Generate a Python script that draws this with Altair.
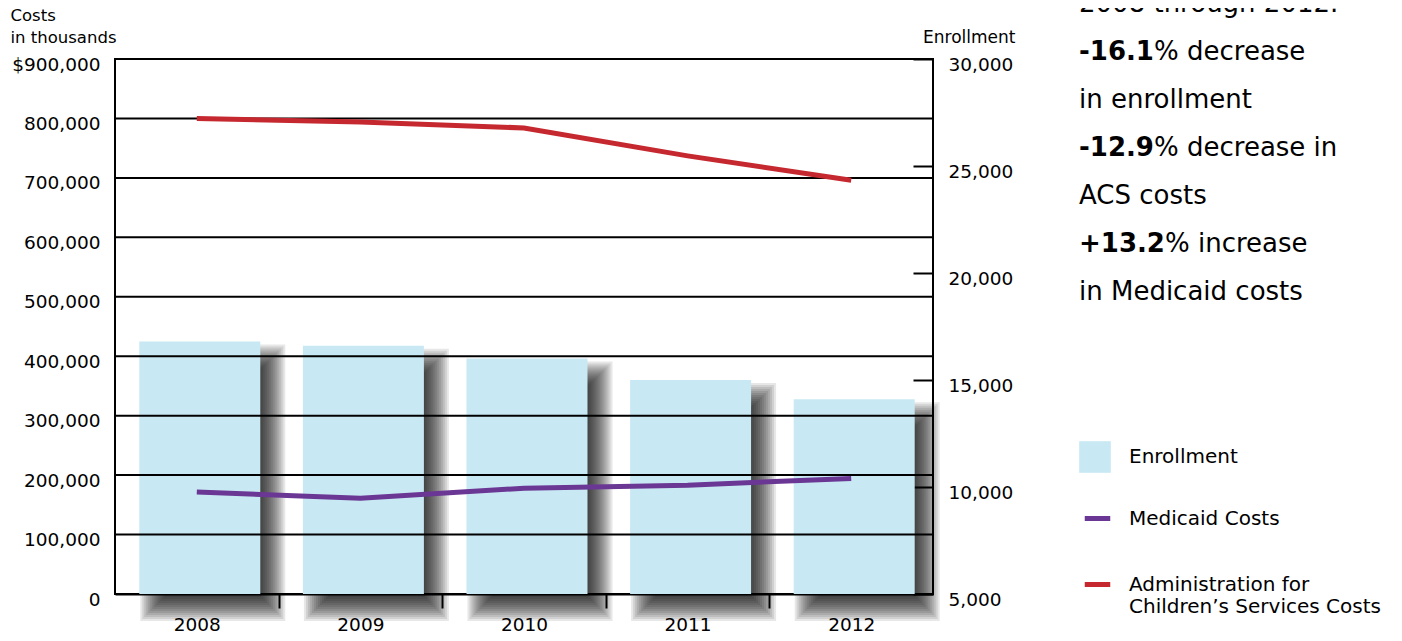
import altair as alt
import pandas as pd

# ---------------- data ----------------
years = ["2008", "2009", "2010", "2011", "2012"]
enrollment = [16800, 16600, 16000, 15000, 14100]
medicaid_costs = [171500, 161000, 178000, 183000, 194500]
acs_costs = [800000, 794000, 784000, 737000, 696000]

series_names = ["Enrollment", "Medicaid Costs", "Administration for Children’s Services Costs"]
series_colors = ["#c8e9f3", "#6b3795", "#c6282f"]

cost_ticks = [0, 100000, 200000, 300000, 400000, 500000, 600000, 700000, 800000, 900000]
enroll_ticks = [5000, 10000, 15000, 20000, 25000, 30000]
grid_values = [100000, 200000, 300000, 400000, 500000, 600000, 700000, 800000]

note_bold = ["", "-16.1", "", "-12.9", "", "+13.2", ""]
note_regular = ["2008 through 2012.", "% decrease", "in enrollment", "% decrease in",
                "ACS costs", "% increase", "in Medicaid costs"]

FONT = "DejaVu Sans"

bars_df = pd.DataFrame({"year": years, "enrollment": enrollment, "series": series_names[0]})
lines_df = pd.DataFrame({
    "year": years * 2,
    "cost": medicaid_costs + acs_costs,
    "series": [series_names[1]] * 5 + [series_names[2]] * 5,
})
grid_df = pd.DataFrame({"cost": grid_values})

# ---------------- scales / axes ----------------
x_scale = alt.Scale(domain=years, paddingInner=0, paddingOuter=0)
x_axis = alt.Axis(title=None, tickBand="extent", tickSize=14, tickWidth=2, tickColor="black",
                  tickOpacity={"condition": {"test": "datum.value == null || datum.value === '2012'",
                                             "value": 0}, "value": 1},
                  domain=True, domainColor="black", domainWidth=2,
                  labelFontSize=18.5, labelPadding=7, labelAngle=0, labelColor="black",
                  labelFont=FONT)
X = alt.X("year:N", scale=x_scale, axis=x_axis)
BAR_PX = 121

enroll_scale = alt.Scale(domain=[5000, 30000], zero=False, nice=False)
enroll_axis = alt.Axis(orient="right", values=enroll_ticks, labelExpr="format(datum.value, ',')",
                       offset=-20, tickSize=20, tickWidth=2, tickColor="black", domain=False,
                       labelFontSize=18.5, labelPadding=15, labelColor="black", labelFont=FONT,
                       labelOffset=5,
                       title="Enrollment", titleAngle=0, titleAlign="right",
                       titleBaseline="alphabetic", titleX=102, titleY=-17,
                       titleFontSize=17, titleFontWeight="normal", titleFont=FONT,
                       titleColor="black", grid=False)
cost_scale = alt.Scale(domain=[0, 900000], nice=False)
cost_axis = alt.Axis(orient="left", values=cost_ticks, ticks=False, domain=False, grid=False,
                     labelExpr="datum.value == 900000 ? '$900,000' : format(datum.value, ',')",
                     labelFontSize=18.5, labelPadding=15, labelColor="black", labelFont=FONT,
                     labelOffset=5,
                     title=["Costs", "in thousands"], titleAngle=0, titleAlign="left",
                     titleBaseline="alphabetic", titleX=-105, titleY=-39,
                     titleFontSize=16.5, titleFontWeight="normal", titleFont=FONT,
                     titleColor="black", titleLineHeight=22)

fill_legend = alt.Legend(
    orient="none", legendX=964, legendY=382, title=None, padding=0,
    labelFont=FONT, labelFontSize=20, labelColor="black", labelLimit=400,
    labelOffset=18, symbolType="square", symbolSize=1000, symbolStrokeWidth=0,
    symbolOpacity=1,
)
stroke_legend = alt.Legend(
    orient="none", legendX=967, legendY=444, title=None, padding=0,
    labelFont=FONT, labelFontSize=20, labelColor="black", labelLimit=400,
    labelOffset=16, rowPadding=40, symbolType="stroke", symbolSize=650,
    symbolStrokeWidth=5, symbolOpacity=1, labelBaseline="middle",
    labelExpr="datum.label == 'Medicaid Costs' ? datum.label : ['Administration for', 'Children’s Services Costs']",
)
FILL = alt.Fill("series:N", scale=alt.Scale(domain=series_names[:1], range=series_colors[:1]),
                legend=fill_legend)
STROKE = alt.Stroke("series:N", scale=alt.Scale(domain=series_names[1:], range=series_colors[1:]),
                    legend=stroke_legend)

# ---------------- enrollment layers (bars + soft shadow) ----------------
EY = alt.Y("enrollment:Q", scale=enroll_scale, axis=enroll_axis)
BAR_SHIFT = 3
SH_X, SH_Y = 13, 15
spreads = [-12, -10, -8, -6, -4, -2, 0, 2, 4, 6, 8, 10, 12]
alpha = 1 - 0.28 ** (1.0 / len(spreads))
shadow_layers = []
for r in spreads:
    shadow_layers.append(
        alt.Chart(bars_df).mark_bar(fill="black", opacity=alpha, width=BAR_PX + 2 * r,
                                    xOffset=BAR_SHIFT + SH_X, x2Offset=BAR_SHIFT + SH_X,
                                    yOffset=SH_Y - r, y2Offset=SH_Y + r)
        .encode(x=X, y=EY, y2=alt.datum(5000))
    )
bars = alt.Chart(bars_df).mark_bar(opacity=1, width=BAR_PX, xOffset=BAR_SHIFT,
                                   x2Offset=BAR_SHIFT).encode(
    x=X, y=EY, y2=alt.datum(5000), fill=FILL)
enroll_layer = alt.layer(*shadow_layers, bars)

# ---------------- cost layers (grid + lines) ----------------
CY = alt.Y("cost:Q", scale=cost_scale, axis=cost_axis)
grid = alt.Chart(grid_df).mark_rule(color="black", strokeWidth=2).encode(y=CY)
lines = alt.Chart(lines_df).mark_line(strokeWidth=5, strokeCap="butt").encode(
    x=X, y=CY, stroke=STROKE, detail="series:N")
cost_layer = alt.layer(grid, lines)

# ---------------- notes ----------------
note_x = 964
note_y = [-47, 1, 49, 97, 145, 193, 241]
bold_w = {"-16.1": 75, "-12.9": 75, "+13.2": 86}
note_layers = []
for b, r, yy in zip(note_bold, note_regular, note_y):
    dx = 0
    if b:
        note_layers.append(
            alt.Chart(pd.DataFrame({"t": [b]})).mark_text(
                align="left", baseline="alphabetic", font=FONT, fontSize=26,
                fontWeight="bold", color="black").encode(
                x=alt.value(note_x), y=alt.value(yy), text="t:N"))
        dx = bold_w[b]
    note_layers.append(
        alt.Chart(pd.DataFrame({"t": [r]})).mark_text(
            align="left", baseline="alphabetic", font=FONT, fontSize=26,
            color="black").encode(
            x=alt.value(note_x + dx), y=alt.value(yy), text="t:N"))

chart = alt.layer(enroll_layer, cost_layer, *note_layers).resolve_scale(
    y="independent"
).properties(
    width=818, height=535,
    autosize=alt.AutoSizeParams(type="none"),
    padding={"left": 107, "top": 51, "right": 461, "bottom": 39},
    background="white",
).configure_view(stroke="black", strokeWidth=2)

chart.save("out.html", embed_options={"renderer": "svg", "actions": False})
